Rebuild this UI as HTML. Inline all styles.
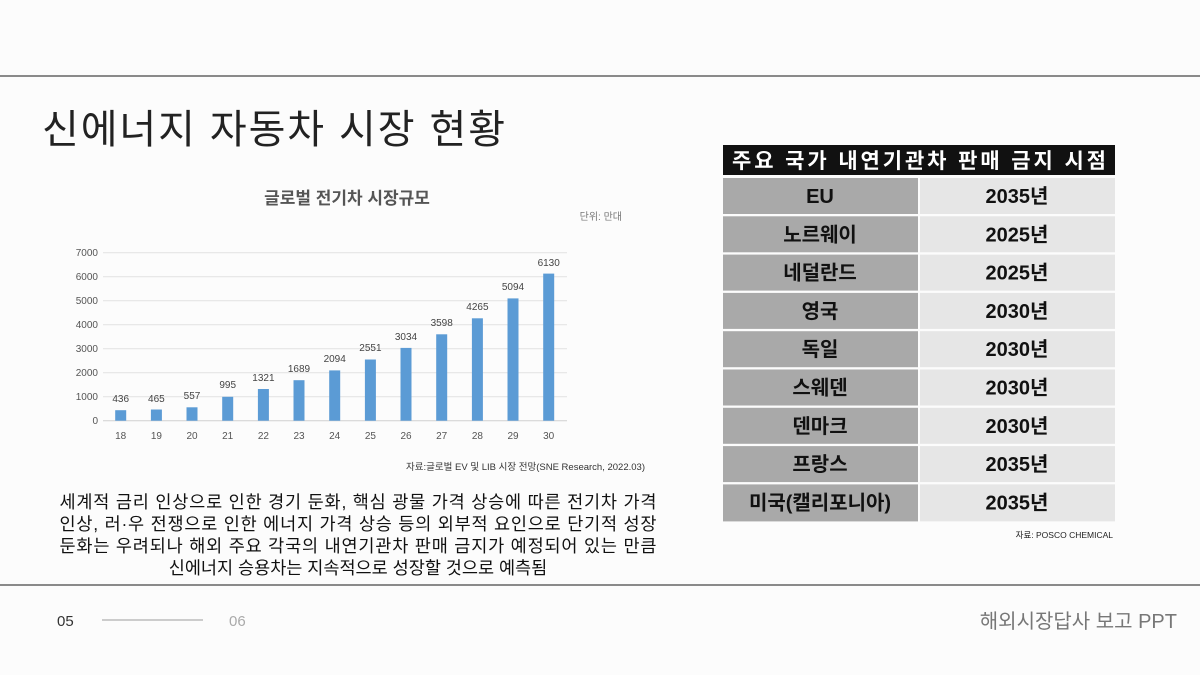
<!DOCTYPE html>
<html><head><meta charset="utf-8"><style>
html,body{margin:0;padding:0;background:#fcfcfc;}
svg{display:block}
text{font-family:"Liberation Sans","Noto Sans CJK KR",sans-serif;}
</style></head><body>
<svg width="1200" height="675" viewBox="0 0 1200 675" xmlns="http://www.w3.org/2000/svg">
<rect width="1200" height="675" fill="#fcfcfc"/>
<line x1="0" y1="76" x2="1200" y2="76" stroke="#8a8a8a" stroke-width="2"/>
<line x1="0" y1="585" x2="1200" y2="585" stroke="#8a8a8a" stroke-width="2"/>
<text x="42" y="143" font-size="40" fill="#222" textLength="463" lengthAdjust="spacing">신에너지 자동차 시장 현황</text>

<!-- chart -->
<text x="347" y="204" font-size="17" font-weight="bold" fill="#555" text-anchor="middle">글로벌 전기차 시장규모</text>
<text x="622" y="220" font-size="10" fill="#777" text-anchor="end">단위: 만대</text>
<g stroke="#e2e2e2" stroke-width="1">
<line x1="103" x2="567" y1="252.7" y2="252.7"/><line x1="103" x2="567" y1="276.7" y2="276.7"/>
<line x1="103" x2="567" y1="300.7" y2="300.7"/><line x1="103" x2="567" y1="324.7" y2="324.7"/>
<line x1="103" x2="567" y1="348.7" y2="348.7"/><line x1="103" x2="567" y1="372.7" y2="372.7"/>
<line x1="103" x2="567" y1="396.7" y2="396.7"/><line x1="103" x2="567" y1="420.7" y2="420.7" stroke="#d0d0d0"/>
</g>
<g font-size="10" fill="#555" text-anchor="end">
<text x="98" y="256">7000</text><text x="98" y="280">6000</text><text x="98" y="304">5000</text>
<text x="98" y="328">4000</text><text x="98" y="352">3000</text><text x="98" y="376">2000</text>
<text x="98" y="400">1000</text><text x="98" y="424">0</text>
</g>
<g fill="#5b9bd5">
<rect x="115.2" y="410.2" width="11" height="10.5"/>
<rect x="150.9" y="409.5" width="11" height="11.2"/>
<rect x="186.5" y="407.3" width="11" height="13.4"/>
<rect x="222.2" y="396.8" width="11" height="23.9"/>
<rect x="257.9" y="389.0" width="11" height="31.7"/>
<rect x="293.5" y="380.2" width="11" height="40.5"/>
<rect x="329.2" y="370.4" width="11" height="50.3"/>
<rect x="364.9" y="359.5" width="11" height="61.2"/>
<rect x="400.5" y="347.9" width="11" height="72.8"/>
<rect x="436.2" y="334.3" width="11" height="86.4"/>
<rect x="471.9" y="318.3" width="11" height="102.4"/>
<rect x="507.5" y="298.4" width="11" height="122.3"/>
<rect x="543.2" y="273.6" width="11" height="147.1"/>
</g>
<g font-size="10" fill="#444" text-anchor="middle">
<text x="120.7" y="402">436</text><text x="156.4" y="402">465</text><text x="192" y="399">557</text>
<text x="227.7" y="388">995</text><text x="263.4" y="381">1321</text><text x="299" y="372">1689</text>
<text x="334.7" y="362">2094</text><text x="370.4" y="351">2551</text><text x="406" y="340">3034</text>
<text x="441.7" y="326">3598</text><text x="477.4" y="310">4265</text><text x="513" y="290">5094</text>
<text x="548.7" y="266">6130</text>
</g>
<g font-size="10" fill="#555" text-anchor="middle">
<text x="120.7" y="439">18</text><text x="156.4" y="439">19</text><text x="192" y="439">20</text>
<text x="227.7" y="439">21</text><text x="263.4" y="439">22</text><text x="299" y="439">23</text>
<text x="334.7" y="439">24</text><text x="370.4" y="439">25</text><text x="406" y="439">26</text>
<text x="441.7" y="439">27</text><text x="477.4" y="439">28</text><text x="513" y="439">29</text>
<text x="548.7" y="439">30</text>
</g>
<text x="645" y="470" font-size="9.5" fill="#333" text-anchor="end">자료:글로벌 EV 및 LIB 시장 전망(SNE Research, 2022.03)</text>

<g font-size="17.5" fill="#111" text-anchor="middle">
<text x="358" y="508" textLength="597" lengthAdjust="spacing">세계적 금리 인상으로 인한 경기 둔화, 핵심 광물 가격 상승에 따른 전기차 가격</text>
<text x="358" y="530" textLength="597" lengthAdjust="spacing">인상, 러·우 전쟁으로 인한 에너지 가격 상승 등의 외부적 요인으로 단기적 성장</text>
<text x="358" y="552" textLength="597" lengthAdjust="spacing">둔화는 우려되나 해외 주요 각국의 내연기관차 판매 금지가 예정되어 있는 만큼</text>
<text x="358" y="574">신에너지 승용차는 지속적으로 성장할 것으로 예측됨</text>
</g>

<!-- table -->
<rect x="723" y="145" width="392" height="30" fill="#111"/>
<text x="919" y="168" font-size="21" font-weight="bold" fill="#fff" text-anchor="middle" textLength="374" lengthAdjust="spacing">주요 국가 내연기관차 판매 금지 시점</text>
<g>
<rect x="723" y="178" width="195" height="36" fill="#a9a9a9"/><rect x="920" y="178" width="195" height="36" fill="#e6e6e6"/>
<rect x="723" y="216.3" width="195" height="36" fill="#a9a9a9"/><rect x="920" y="216.3" width="195" height="36" fill="#e6e6e6"/>
<rect x="723" y="254.6" width="195" height="36" fill="#a9a9a9"/><rect x="920" y="254.6" width="195" height="36" fill="#e6e6e6"/>
<rect x="723" y="292.9" width="195" height="36" fill="#a9a9a9"/><rect x="920" y="292.9" width="195" height="36" fill="#e6e6e6"/>
<rect x="723" y="331.2" width="195" height="36" fill="#a9a9a9"/><rect x="920" y="331.2" width="195" height="36" fill="#e6e6e6"/>
<rect x="723" y="369.5" width="195" height="36" fill="#a9a9a9"/><rect x="920" y="369.5" width="195" height="36" fill="#e6e6e6"/>
<rect x="723" y="407.8" width="195" height="36" fill="#a9a9a9"/><rect x="920" y="407.8" width="195" height="36" fill="#e6e6e6"/>
<rect x="723" y="446.1" width="195" height="36" fill="#a9a9a9"/><rect x="920" y="446.1" width="195" height="36" fill="#e6e6e6"/>
<rect x="723" y="484.4" width="195" height="37" fill="#a9a9a9"/><rect x="920" y="484.4" width="195" height="37" fill="#e6e6e6"/>
</g>
<g font-size="20" font-weight="bold" fill="#111" text-anchor="middle">
<text x="820" y="203">EU</text><text x="1017" y="203">2035년</text>
<text x="820" y="241.3">노르웨이</text><text x="1017" y="241.3">2025년</text>
<text x="820" y="279.6">네덜란드</text><text x="1017" y="279.6">2025년</text>
<text x="820" y="317.9">영국</text><text x="1017" y="317.9">2030년</text>
<text x="820" y="356.2">독일</text><text x="1017" y="356.2">2030년</text>
<text x="820" y="394.5">스웨덴</text><text x="1017" y="394.5">2030년</text>
<text x="820" y="432.8">덴마크</text><text x="1017" y="432.8">2030년</text>
<text x="820" y="471.1">프랑스</text><text x="1017" y="471.1">2035년</text>
<text x="820" y="509.4">미국(캘리포니아)</text><text x="1017" y="509.4">2035년</text>
</g>
<text x="1113" y="538" font-size="8.5" fill="#222" text-anchor="end">자료: POSCO CHEMICAL</text>

<!-- footer -->
<text x="57" y="626" font-size="15" fill="#333">05</text>
<line x1="102" y1="620" x2="203" y2="620" stroke="#bbb" stroke-width="1.5"/>
<text x="229" y="626" font-size="15" fill="#aaa">06</text>
<text x="1177" y="628" font-size="20" fill="#777" text-anchor="end">해외시장답사 보고 PPT</text>
</svg>
</body></html>
